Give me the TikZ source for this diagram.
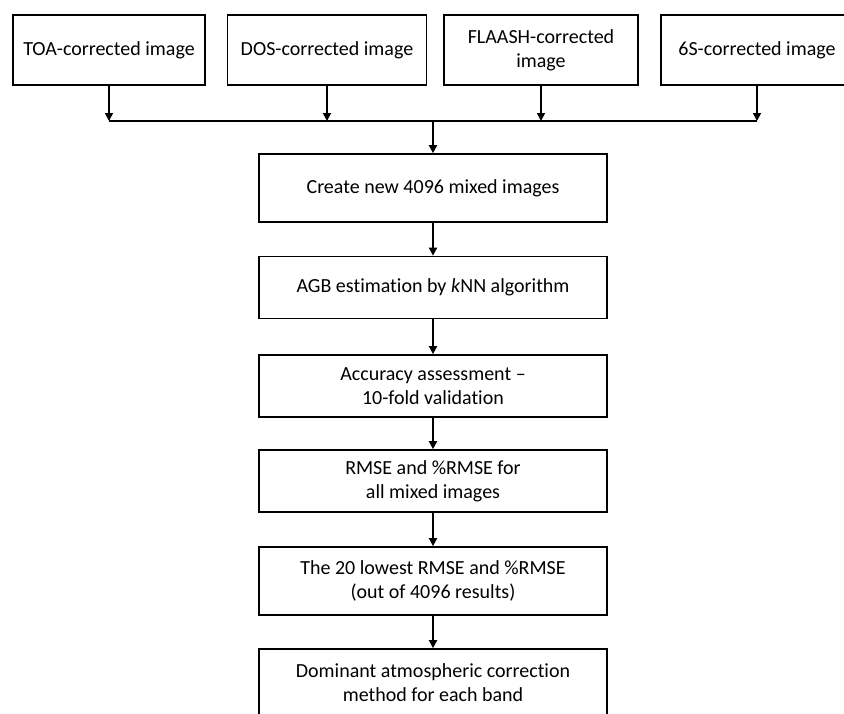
\documentclass[tikz,border=0pt]{standalone}
\usepackage{fontspec}
\setmainfont{Carlito}[Ligatures=NoCommon]
\usetikzlibrary{arrows.meta}

\begin{document}
\begin{tikzpicture}[x=1pt,y=-1pt,
	every node/.style={font=\fontsize{20}{24}\selectfont, align=center},
	inbox/.style={draw, line width=1.7pt, minimum height=70pt, inner sep=2pt},
	stage/.style={draw, line width=1.7pt, minimum width=348pt, minimum height=62pt, inner sep=2pt},
	flow/.style={line width=1.7pt, -{Triangle[length=8pt,width=8pt]}}]
	\useasboundingbox (0,0) rectangle (844,713);
	\node[inbox, minimum width=192pt] (toa) at (109,50) {TOA-corrected image};
	\node[inbox, minimum width=199pt] (dos) at (327,50) {DOS-corrected image};
	\node[inbox, minimum width=194pt] (flaash) at (541,50) {FLAASH-corrected\\ image};
	\node[inbox, minimum width=192pt] (six) at (757,50) {6S-corrected image};
	\coordinate (bus) at (433,121);
	\node[stage, minimum height=68pt] (create) at (433,188) {Create new 4096 mixed images};
	\node[stage] (agb) at (433,287.5) {AGB estimation by \textit{k}NN algorithm};
	\node[stage] (acc) at (433,386) {Accuracy assessment --\\ 10-fold validation};
	\node[stage] (rmse) at (433,481) {RMSE and \%RMSE for\\ all mixed images};
	\node[stage, minimum height=68pt] (low) at (433,581) {The 20 lowest RMSE and \%RMSE\\ (out of 4096 results)};
	\node[stage, minimum height=68pt] (dom) at (433,683) {Dominant atmospheric correction\\ method for each band};
	\foreach \u in {toa, dos, flaash, six} {\draw[flow] (\u.south) -- (\u.south |- bus);}
	\draw[line width=1.7pt] (toa.south |- bus) -- (six.south |- bus);
	\draw[flow] (bus) -- (create);
	\foreach \u/\v in {create/agb, agb/acc, acc/rmse, rmse/low, low/dom} {\draw[flow] (\u) -- (\v);}
\end{tikzpicture}
\end{document}
